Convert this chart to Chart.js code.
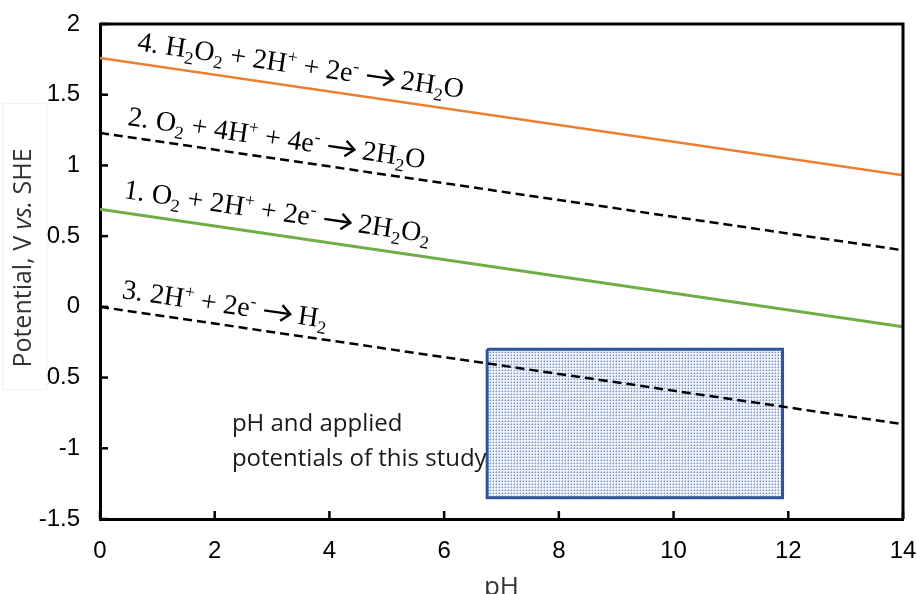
<!DOCTYPE html>
<html>
<head>
<meta charset="utf-8">
<script src="https://cdn.jsdelivr.net/npm/chart.js"></script>
<style>
  html, body { margin: 0; padding: 0; background: #fff; }
</style>
</head>
<body>
<canvas id="myChart" width="918" height="594"></canvas>
<script>
// データ
const phValues = [0, 14];
const h2o2ToH2o = [1.76, 0.93];   // 4. H2O2 + 2H+ + 2e- -> 2H2O
const o2ToH2o = [1.23, 0.40];     // 2. O2 + 4H+ + 4e- -> 2H2O
const o2ToH2o2 = [0.69, -0.14];   // 1. O2 + 2H+ + 2e- -> 2H2O2
const hToH2 = [0.00, -0.83];      // 3. 2H+ + 2e- -> H2
const studyPh = [6.75, 11.9];
const studyPotential = [-0.3, -1.35];
const xTicks = [0, 2, 4, 6, 8, 10, 12, 14];
const yTicks = [-1.5, -1, -0.5, 0, 0.5, 1, 1.5, 2];

const toPoints = (ys) => phValues.map((x, i) => ({ x, y: ys[i] }));

// 反応式ラベル（_ は下付き、^ は上付き）
const reactionLabels = [
  { text: '4. H_2O_2 + 2H^+ + 2e^- → 2H_2O', line: h2o2ToH2o, at: [0.64, 1.815] },
  { text: '2. O_2 + 4H^+ + 4e^- → 2H_2O', line: o2ToH2o, at: [0.47, 1.286] },
  { text: '1. O_2 + 2H^+ + 2e^- → 2H_2O_2', line: o2ToH2o2, at: [0.40, 0.770] },
  { text: '3. 2H^+ + 2e^- → H_2', line: hToH2, at: [0.37, 0.063] }
];

// 点描パターン（研究範囲の四角）
function makeDots(ctx) {
  const c = document.createElement('canvas');
  c.width = 3; c.height = 3;
  const g = c.getContext('2d');
  g.fillStyle = '#edf1f9';
  g.fillRect(0, 0, 3, 3);
  g.fillStyle = '#b7c5e4';
  g.fillRect(1, 0, 1, 1);
  g.fillRect(0, 1, 1, 1);
  g.fillStyle = '#7890c6';
  g.fillRect(1, 1, 1, 1);
  return ctx.createPattern(c, 'repeat');
}

// 上付き・下付き付きの文字列を回転して描く
function drawRich(ctx, str, x, y, angle, size) {
  ctx.save();
  ctx.translate(x, y);
  ctx.rotate(angle);
  ctx.fillStyle = '#000';
  ctx.strokeStyle = '#000';
  ctx.textAlign = 'left';
  ctx.textBaseline = 'alphabetic';
  let cx = 0;
  for (let i = 0; i < str.length; i++) {
    const ch = str[i];
    if (ch === '_' || ch === '^') {
      const c = str[++i];
      ctx.font = Math.round(size * 0.66) + 'px "Liberation Serif"';
      const dy = ch === '_' ? size * 0.22 : -size * 0.36;
      ctx.fillText(c, cx, dy);
      cx += ctx.measureText(c).width;
    } else if (ch === '→') {
      const w = size * 1.0;
      const my = -size * 0.3;
      ctx.lineWidth = size * 0.085;
      ctx.lineCap = 'butt';
      ctx.beginPath();
      ctx.moveTo(cx + size * 0.06, my);
      ctx.lineTo(cx + w - size * 0.06, my);
      ctx.stroke();
      ctx.beginPath();
      ctx.moveTo(cx + w - size * 0.32, my - size * 0.28);
      ctx.lineTo(cx + w, my);
      ctx.lineTo(cx + w - size * 0.32, my + size * 0.28);
      ctx.stroke();
      cx += w + size * 0.04;
    } else {
      ctx.font = size + 'px "Liberation Serif"';
      ctx.fillText(ch, cx, 0);
      cx += ctx.measureText(ch).width;
    }
  }
  ctx.restore();
}

const decorPlugin = {
  id: 'decor',
  beforeDraw(chart) {
    const { ctx, width, height } = chart;
    ctx.save();
    ctx.fillStyle = '#fff';
    ctx.fillRect(0, 0, width, height);
    ctx.restore();
  },
  afterDatasetsDraw(chart) {
    const { ctx, chartArea: a, scales } = chart;
    ctx.save();
    ctx.strokeStyle = '#000';
    ctx.lineWidth = 3;
    // 上と右の枠線
    ctx.beginPath();
    ctx.moveTo(a.left, a.top);
    ctx.lineTo(a.right, a.top);
    ctx.lineTo(a.right, a.bottom);
    ctx.stroke();
    // 内向きの目盛り
    ctx.lineWidth = 2.5;
    yTicks.forEach(v => {
      const py = scales.y.getPixelForValue(v);
      ctx.beginPath();
      ctx.moveTo(a.left, py);
      ctx.lineTo(a.left + 8, py);
      ctx.stroke();
    });
    xTicks.forEach(v => {
      const px = scales.x.getPixelForValue(v);
      ctx.beginPath();
      ctx.moveTo(px, a.bottom);
      ctx.lineTo(px, a.bottom - 8);
      ctx.stroke();
    });
    ctx.restore();
  },
  afterDraw(chart) {
    const { ctx, scales } = chart;
    const sx = scales.x, sy = scales.y;

    // 反応式
    reactionLabels.forEach(lb => {
      const x0 = sx.getPixelForValue(phValues[0]), y0 = sy.getPixelForValue(lb.line[0]);
      const x1 = sx.getPixelForValue(phValues[1]), y1 = sy.getPixelForValue(lb.line[1]);
      const angle = Math.atan2(y1 - y0, x1 - x0);
      drawRich(ctx, lb.text, sx.getPixelForValue(lb.at[0]), sy.getPixelForValue(lb.at[1]), angle, 28);
    });

    ctx.save();
    // 研究範囲の説明
    ctx.fillStyle = '#1a1a1a';
    ctx.font = '24px "Open Sans"';
    ctx.textAlign = 'left';
    ctx.textBaseline = 'alphabetic';
    ctx.fillText('pH and applied', sx.getPixelForValue(2.3), sy.getPixelForValue(-0.878));
    ctx.fillText('potentials of this study', sx.getPixelForValue(2.3), sy.getPixelForValue(-1.125));

    // x軸タイトル（下端で少し切れる）
    ctx.fillStyle = '#333';
    ctx.font = '26px "Open Sans"';
    ctx.textAlign = 'center';
    ctx.textBaseline = 'alphabetic';
    ctx.fillText('pH', (chart.chartArea.left + chart.chartArea.right) / 2, 595);

    // y軸タイトル（白い枠つき、vs. は斜体）
    ctx.fillStyle = '#fff';
    ctx.fillRect(2, 103, 45, 287);
    ctx.strokeStyle = '#f2f2f2';
    ctx.lineWidth = 1;
    ctx.strokeRect(2.5, 103.5, 44, 286);
    const parts = [
      { t: 'Potential, V ', f: '25px "Open Sans"' },
      { t: 'vs.', f: 'italic 25px "Open Sans"' },
      { t: ' SHE', f: '25px "Open Sans"' }
    ];
    let total = 0;
    parts.forEach(p => { ctx.font = p.f; p.w = ctx.measureText(p.t).width; total += p.w; });
    ctx.translate(24, 258);
    ctx.rotate(-Math.PI / 2);
    ctx.fillStyle = '#333';
    ctx.textAlign = 'left';
    ctx.textBaseline = 'middle';
    let cx = -total / 2;
    parts.forEach(p => { ctx.font = p.f; ctx.fillText(p.t, cx, 0); cx += p.w; });
    ctx.restore();
  }
};

const ctx = document.getElementById('myChart');
new Chart(ctx, {
  type: 'line',
  data: {
    datasets: [{
      label: '4',
      data: toPoints(h2o2ToH2o),
      borderColor: '#ED7D31',
      borderWidth: 2.5,
      pointRadius: 0,
      order: 1
    }, {
      label: '2',
      data: toPoints(o2ToH2o),
      borderColor: '#000',
      borderWidth: 2.5,
      borderDash: [9, 5],
      pointRadius: 0,
      order: 1
    }, {
      label: '1',
      data: toPoints(o2ToH2o2),
      borderColor: '#70AD47',
      borderWidth: 3,
      pointRadius: 0,
      order: 1
    }, {
      label: '3',
      data: toPoints(hToH2),
      borderColor: '#000',
      borderWidth: 2.5,
      borderDash: [9, 5],
      pointRadius: 0,
      order: 1
    }, {
      label: 'study',
      data: [
        { x: studyPh[0], y: studyPotential[0] },
        { x: studyPh[1], y: studyPotential[0] },
        { x: studyPh[1], y: studyPotential[1] },
        { x: studyPh[0], y: studyPotential[1] },
        { x: studyPh[0], y: studyPotential[0] }
      ],
      borderColor: '#2F5597',
      borderWidth: 3,
      backgroundColor: makeDots(ctx.getContext('2d')),
      fill: 'shape',
      pointRadius: 0,
      order: 5
    }]
  },
  options: {
    responsive: false,
    animation: false,
    layout: { padding: { top: 24, right: 15, left: 0, bottom: 0 } },
    plugins: { legend: { display: false }, tooltip: { enabled: false } },
    scales: {
      x: {
        type: 'linear',
        min: 0,
        max: 14,
        grid: { display: false, drawTicks: false },
        border: { display: true, color: '#000', width: 3 },
        afterBuildTicks: s => { s.ticks = xTicks.map(v => ({ value: v })); },
        afterFit: s => { s.height = 75; s.paddingLeft = 0; s.paddingRight = 0; },
        ticks: { color: '#000', font: { family: 'Liberation Sans', size: 24 }, padding: 18, maxRotation: 0,
                 callback: v => String(v) }
      },
      y: {
        type: 'linear',
        min: -1.5,
        max: 2,
        grid: { display: false, drawTicks: false },
        border: { display: true, color: '#000', width: 3 },
        afterBuildTicks: s => { s.ticks = yTicks.map(v => ({ value: v })); },
        afterFit: s => { s.width = 100; s.paddingTop = 0; s.paddingBottom = 0; },
        ticks: { color: '#000', font: { family: 'Liberation Sans', size: 24 }, padding: 20,
                 callback: v => String(v) }
      }
    }
  },
  plugins: [decorPlugin]
});
</script>
</body>
</html>
